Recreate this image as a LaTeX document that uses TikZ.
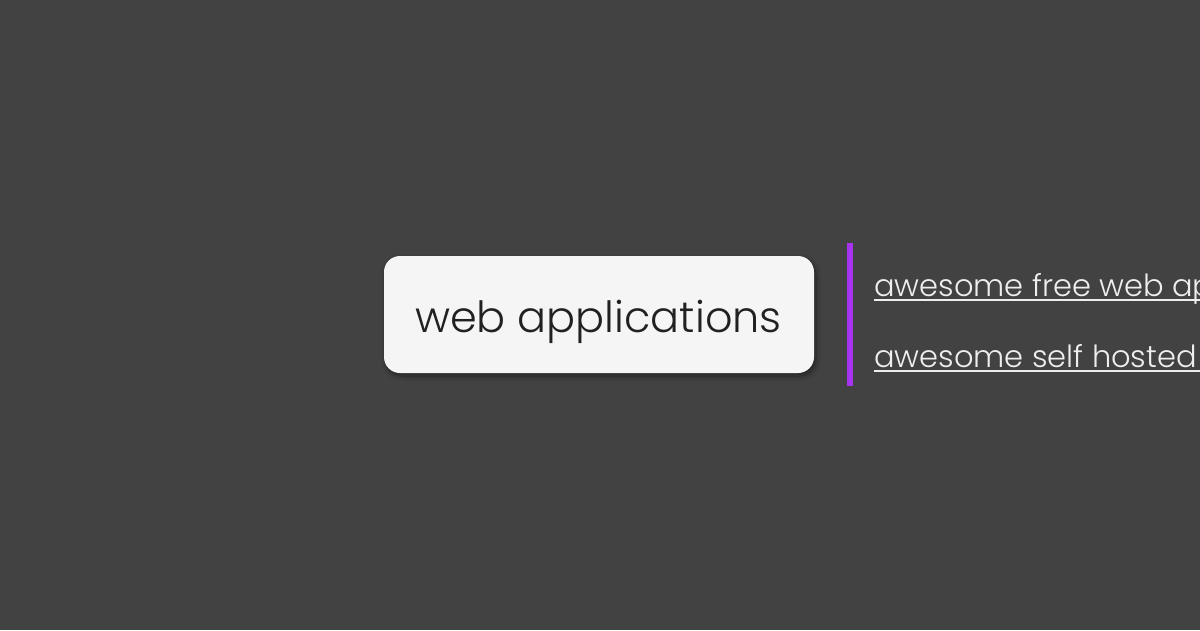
\documentclass[tikz,border=0pt]{standalone}
\usepackage{fontspec}
\setmainfont{Poppins}[UprightFont=* Light]
\usetikzlibrary{shadows.blur}
\definecolor{bg}{HTML}{424242}
\definecolor{boxfill}{HTML}{F5F5F5}
\definecolor{boxtext}{HTML}{212121}
\definecolor{linktext}{HTML}{EEEEEE}
\definecolor{barpurple}{HTML}{A633EF}
\tikzset{
  topic/.style={fill=boxfill, rounded corners=16pt, minimum width=430pt, minimum height=117pt, inner sep=0pt,
    blur shadow={shadow xshift=2pt, shadow yshift=-3pt, shadow blur steps=12, shadow opacity=45, shadow blur radius=5pt}},
  topictext/.style={anchor=base, inner sep=0pt, text=boxtext, font=\fontsize{43}{50}\selectfont},
  linknode/.style={anchor=base west, inner sep=0pt, text=linktext, font=\fontsize{30.5}{36}\selectfont},
  uline/.style={draw=linktext, line width=1.6pt},
  bar/.style={draw=barpurple, line width=6pt}
}
\begin{document}
\begin{tikzpicture}[x=1pt,y=-1pt]
\fill[bg] (0,0) rectangle (1200,630);
\useasboundingbox (0,0) rectangle (1200,630);
\clip (0,0) rectangle (1200,630);
\node[topic] (main) at (599,314.5) {};
\node[topictext] (maintext) at (598.5,332) {web applications};
\coordinate (bartop) at (850,243);
\coordinate (barbot) at (850,386);
\draw[bar] (bartop) -- (barbot);
\node[linknode] (l1) at (874,296) {awesome free web applications};
\node[linknode] (l2) at (874,367) {awesome self hosted web applications};
\draw[uline] ([yshift=-4pt]l1.base west) -- ([yshift=-4pt]l1.base east);
\draw[uline] ([yshift=-4pt]l2.base west) -- ([yshift=-4pt]l2.base east);
\end{tikzpicture}
\end{document}
